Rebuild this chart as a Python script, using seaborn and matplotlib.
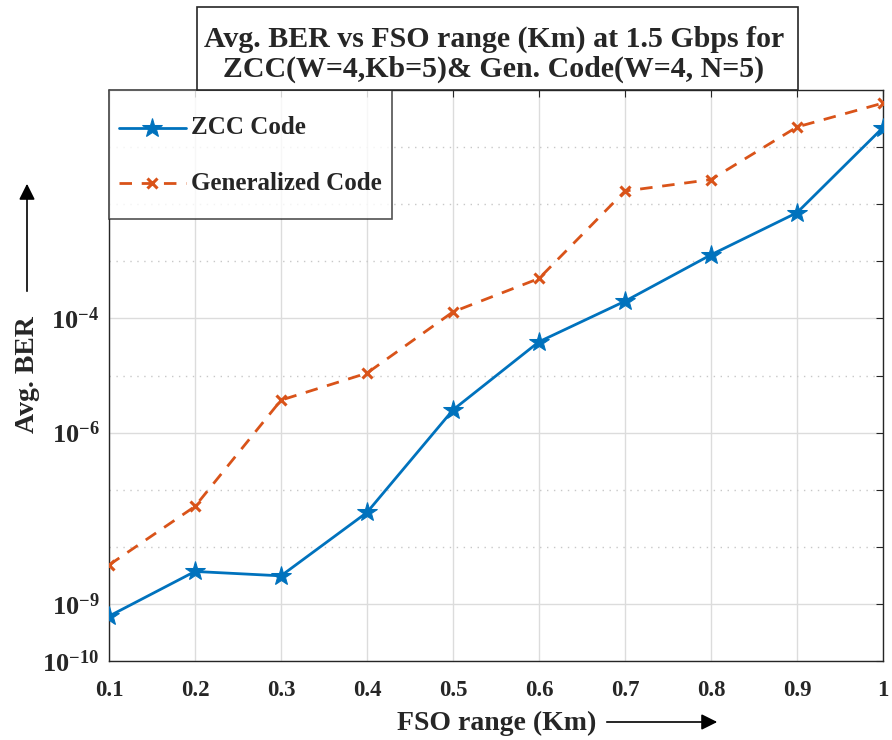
import numpy as np
import pandas as pd
import matplotlib
matplotlib.use("Agg")
import matplotlib.pyplot as plt
from matplotlib.patches import Rectangle
from matplotlib.legend_handler import HandlerLine2D
import seaborn as sns

# FSO range (Km) and average BER for both codes
fso_range = [0.1, 0.2, 0.3, 0.4, 0.5, 0.6, 0.7, 0.8, 0.9, 1.0]
ber_zcc = [6.1e-10, 3.7e-9, 3.1e-9, 4.0e-8, 2.5e-6, 3.9e-5, 2.0e-4, 1.3e-3, 7.1e-3, 0.22]
ber_gen = [4.8e-9, 5.1e-8, 3.7e-6, 1.1e-5, 1.3e-4, 5.0e-4, 1.7e-2, 2.7e-2, 0.225, 0.59]

x_ticks = [0.1, 0.2, 0.3, 0.4, 0.5, 0.6, 0.7, 0.8, 0.9, 1.0]
x_tick_labels = ["0.1", "0.2", "0.3", "0.4", "0.5", "0.6", "0.7", "0.8", "0.9", "1"]
y_ticks = [1e-10, 1e-9, 1e-6, 1e-4]
y_tick_labels = [r"$\mathbf{10^{-10}}$", r"$\mathbf{10^{-9}}$", r"$\mathbf{10^{-6}}$", r"$\mathbf{10^{-4}}$"]
y_minor_ticks = [1e-8, 1e-7, 1e-5, 1e-3, 1e-2, 1e-1]

title_text = "Avg. BER vs FSO range (Km) at 1.5 Gbps for\nZCC(W=4,Kb=5)& Gen. Code(W=4, N=5)"
series_names = ["ZCC Code", "Generalized Code"]


class LoweredLineHandler(HandlerLine2D):
    """Legend line handler that sits the sample level with the label text."""

    def create_artists(self, legend, orig_handle, xdescent, ydescent, width,
                       height, fontsize, trans):
        artists = super().create_artists(legend, orig_handle, xdescent, ydescent,
                                         width, height, fontsize, trans)
        for a in artists:
            a.set_ydata(np.asarray(a.get_ydata(), dtype=float) - 0.42 * fontsize)
        return artists


sns.set_style("white")
plt.rcParams["font.family"] = ["Liberation Serif", "DejaVu Serif"]
plt.rcParams["font.weight"] = "bold"
plt.rcParams["mathtext.fontset"] = "custom"
plt.rcParams["mathtext.rm"] = "Liberation Serif"
plt.rcParams["mathtext.bf"] = "Liberation Serif:bold"
plt.rcParams["mathtext.it"] = "Liberation Serif:italic"

W, H = 892, 740
fig = plt.figure(figsize=(W / 100, H / 100), dpi=100)
ax = fig.add_axes([109 / W, (H - 661) / H, (883 - 109) / W, (661 - 90) / H])

blue = "#0072BD"
orange = "#D95319"

df = pd.DataFrame({"range": fso_range, "zcc": ber_zcc, "gen": ber_gen})

sns.lineplot(data=df, x="range", y="zcc", ax=ax, color=blue, lw=2.0,
             marker="*", markersize=15, markeredgecolor=blue, label=series_names[0],
             zorder=4)
sns.lineplot(data=df, x="range", y="gen", ax=ax, color=orange, lw=2.0,
             linestyle=(0, (4.5, 3.5)), marker="x", markersize=7, markeredgewidth=2.2,
             markeredgecolor=orange, label=series_names[1], zorder=3)

ax.set_yscale("log")
ax.set_xlim(0.1, 1.0)
ax.set_ylim(1e-10, 1e0)

ax.set_xticks(x_ticks)
ax.set_xticklabels(x_tick_labels)
ax.set_yticks(y_ticks)
ax.set_yticklabels(y_tick_labels)
ax.set_yticks(y_minor_ticks, minor=True)
ax.yaxis.set_minor_formatter(matplotlib.ticker.NullFormatter())

ax.tick_params(axis="both", which="both", direction="in", top=True, right=True,
               length=5, width=0.8, color="#262626")
ax.tick_params(axis="x", which="major", labelsize=16.5, pad=14)
ax.tick_params(axis="y", which="major", labelsize=19, pad=7)
for lab in ax.get_xticklabels():
    lab.set_fontweight("bold")

ax.grid(True, which="major", axis="both", color="#dcdcdc", lw=1.0, ls="-")
ax.grid(True, which="minor", axis="y", color="#c8c8c8", lw=1.0, ls=(0, (1, 4)))
ax.set_axisbelow(True)

for sp in ax.spines.values():
    sp.set_color("#262626")
    sp.set_linewidth(1.0)

ax.set_xlabel("")
ax.set_ylabel("")

# axis labels with arrows
fig.text(497, H - 723, "FSO range (Km)", ha="center", va="center", fontsize=20,
         fontweight="bold", transform=None)
ax.annotate("", xy=(720, H - 722), xytext=(604, H - 722), xycoords="figure pixels",
            textcoords="figure pixels",
            arrowprops=dict(arrowstyle="-|>", lw=1.2, color="black", mutation_scale=24))
fig.text(27, H - 375, "Avg. BER", ha="center", va="center", rotation=90, fontsize=20,
         fontweight="bold", transform=None)
ax.annotate("", xy=(27, H - 181), xytext=(27, H - 294), xycoords="figure pixels",
            textcoords="figure pixels",
            arrowprops=dict(arrowstyle="-|>", lw=1.2, color="black", mutation_scale=24))

# boxed title
fig.add_artist(Rectangle((197 / W, (H - 90) / H), (798 - 197) / W, (90 - 7) / H,
                         transform=fig.transFigure, fc="white", ec="#262626", lw=1.2))
fig.text(494 / W, (H - 54) / H, title_text, ha="center", va="center", fontsize=21.5,
         fontweight="bold", linespacing=1.13)

handles, labels = ax.get_legend_handles_labels()
leg = ax.legend(handles, labels, loc="upper left", borderaxespad=0.0, fontsize=18,
                frameon=True, fancybox=False, edgecolor="#262626", handlelength=2.67,
                handletextpad=0.2, labelspacing=0.1, borderpad=0.4, handleheight=2.9,
                handler_map={h: LoweredLineHandler() for h in handles})
leg.get_frame().set_linewidth(1.2)
for t in leg.get_texts():
    t.set_fontweight("bold")

fig.savefig("out.png", dpi=100)
